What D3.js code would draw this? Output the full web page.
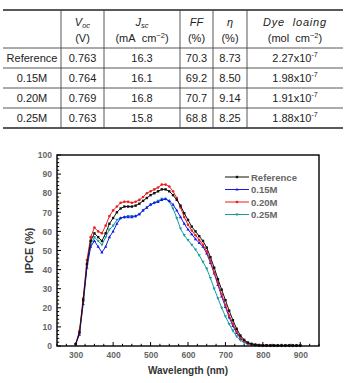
<!DOCTYPE html>
<html><head><meta charset="utf-8">
<script src="https://cdn.jsdelivr.net/npm/d3@7/dist/d3.min.js"></script>
<style>
html,body{margin:0;padding:0;background:#fff;}
svg{display:block;font-family:"Liberation Sans",Arial,sans-serif;}
</style></head><body>
<svg id="c" width="345" height="383"></svg>
<script>
// ---- table data ----
const samples = ["Reference","0.15M","0.20M","0.25M"];
const voc = ["0.763","0.764","0.769","0.763"];
const jsc = ["16.3","16.1","16.8","15.8"];
const ff = ["70.3","69.2","70.7","68.8"];
const eta = ["8.73","8.50","9.14","8.25"];
const dyeMantissa = ["2.27","1.98","1.91","1.88"];
const dyeExp = "-7";

// ---- chart data ----
const wavelengths = d3.range(300, 901, 10);
const seriesNames = ["Reference","0.15M","0.20M","0.25M"];
const refVals = [1,7,24,43,55,59,57,55,59,64,67,70,72,73,73,73,73.5,74.5,76,77.5,79,80,81,82,82,81,79,76.5,73.5,69.5,66,62.5,60,57.5,55,51.5,46.5,41,35,29.5,24,18.5,13.5,9,5.5,3.2,1.8,1.1,0.7,0.5,0.4,0.4,0.3,0.3,0.3,0.3,0.3,0.3,0.3,0.3,0.3];
const m15Vals = [1,6,22,41,52,55,52,49,52,57,60,64,67,67.5,67.5,67.5,68,69,71,72.5,74,75,75.5,76.5,77,76,74,71,67.5,64,61,58.5,56,54,52,48.5,43.5,38,32,26,20.5,15,10.5,6.8,4,2.5,1.5,1,0.6,0.4,0.3,0.3,0.3,0.3,0.3,0.3,0.3,0.3,0.3,0.3,0.3];
const m20Vals = [1,8,25,45,57,62,60,59,63,68,71,73,75,75.5,75.5,75,75.5,76.5,78,80,81,82,83,84.5,84.5,83.5,81,77.5,72.5,67.5,63.5,60.5,58,55.5,53,49.5,44.5,38.5,33,27,21.5,16,11.5,7.5,4.5,2.6,1.4,0.9,0.6,0.4,0.3,0.3,0.3,0.3,0.3,0.3,0.3,0.3,0.3,0.3,0.3];
const m25Vals = [1,7,23,42,53,57,55,53,57,61,63,66,67,67.5,68,68,68,69,71,72.5,74,75,76,77,77,75.5,72,67,61.5,58,55.5,53,50.5,47.5,44,40.5,35.5,30,25,20,15.5,11.5,8,5,3,1.8,1,0.6,0.4,0.3,0.2,0.2,0.2,0.2,0.2,0.2,0.2,0.2,0.2,0.2,0.2];
const xTicks = [300,400,500,600,700,800,900];
const yTicks = [0,10,20,30,40,50,60,70,80,90,100];

const svg = d3.select("#c");
const ink = "#222";
const NB = "\u00a0";

// ---- table ----
const colEdges = [3,61,104,180,213,247,343];
const colCenter = i => (colEdges[i]+colEdges[i+1])/2;
const tTop = 10, tHead = 48, rowH = 20;
const tBottom = tHead + rowH*samples.length;
const tg = svg.append("g");
tg.append("line").attr("x1",colEdges[0]).attr("x2",colEdges[6]).attr("y1",tTop).attr("y2",tTop).attr("stroke","#222").attr("stroke-width",1.4);
tg.append("line").attr("x1",colEdges[0]).attr("x2",colEdges[6]).attr("y1",tBottom).attr("y2",tBottom).attr("stroke","#222").attr("stroke-width",1.4);
for (let r=0;r<samples.length;r++){
  const y = tHead + r*rowH;
  tg.append("line").attr("x1",colEdges[0]).attr("x2",colEdges[6]).attr("y1",y).attr("y2",y).attr("stroke","#444").attr("stroke-width",0.9);
}
for (let c=1;c<6;c++){
  tg.append("line").attr("x1",colEdges[c]).attr("x2",colEdges[c]).attr("y1",tTop).attr("y2",tBottom).attr("stroke","#444").attr("stroke-width",0.9);
}
// header
function headText(ci, build, y){
  const t = tg.append("text").attr("x",colCenter(ci)).attr("y",y).attr("text-anchor","middle")
    .attr("font-size",11).attr("fill",ink);
  build(t);
}
const h1y = 26, h2y = 42;
headText(1, t=>{t.append("tspan").attr("font-style","italic").text("V");t.append("tspan").attr("font-style","italic").attr("font-size",7.5).attr("dy",2).text("oc");}, h1y);
headText(1, t=>t.text("(V)"), h2y);
headText(2, t=>{t.append("tspan").attr("font-style","italic").text("J");t.append("tspan").attr("font-style","italic").attr("font-size",7.5).attr("dy",2).text("sc");}, h1y);
headText(2, t=>{t.append("tspan").text("(mA"+NB+NB+"cm");t.append("tspan").attr("font-size",7.5).attr("dy",-4).text("−2");t.append("tspan").attr("dy",4).text(")");}, h2y);
headText(3, t=>t.attr("font-style","italic").text("FF"), h1y);
headText(3, t=>t.text("(%)"), h2y);
headText(4, t=>t.attr("font-style","italic").text("η"), h1y);
headText(4, t=>t.text("(%)"), h2y);
headText(5, t=>t.attr("font-style","italic").attr("letter-spacing",0.8).text("Dye"+NB+NB+"loaing"), h1y);
headText(5, t=>{t.append("tspan").text("(mol"+NB+NB+"cm");t.append("tspan").attr("font-size",7.5).attr("dy",-4).text("−2");t.append("tspan").attr("dy",4).text(")");}, h2y);
// rows
samples.forEach((s,r)=>{
  const y = tHead + r*rowH + 14;
  const cells = [s, voc[r], jsc[r], ff[r], eta[r]];
  cells.forEach((v,ci)=>{
    tg.append("text").attr("x",colCenter(ci)).attr("y",y).attr("text-anchor","middle").attr("font-size",11).attr("fill",ink).text(v);
  });
  const t = tg.append("text").attr("x",colCenter(5)).attr("y",y).attr("text-anchor","middle").attr("font-size",11).attr("fill",ink);
  t.append("tspan").text(dyeMantissa[r]+"x10");
  t.append("tspan").attr("font-size",7).attr("dy",-5).text(dyeExp);
});

// ---- chart ----
const L=57, R=319, T=155, B=346;
const x = d3.scaleLinear().domain([250,950]).range([L,R]);
const y = d3.scaleLinear().domain([0,100]).range([B,T]);
const cg = svg.append("g");

// ticks
const minorX = d3.range(250,951,25);
const minorY = d3.range(0,101,2);
minorX.forEach(v=>{ const major = v%100===0; cg.append("line").attr("x1",x(v)).attr("x2",x(v)).attr("y1",B).attr("y2",B-(major?4:2.2)).attr("stroke","#000").attr("stroke-width",1);});
minorY.forEach(v=>{ const major = v%10===0; cg.append("line").attr("x1",L).attr("x2",L+(major?4:2.2)).attr("y1",y(v)).attr("y2",y(v)).attr("stroke","#000").attr("stroke-width",1);});

const xAxis = d3.axisBottom(x).tickValues(xTicks).tickSize(0).tickPadding(6);
const yAxis = d3.axisLeft(y).tickValues(yTicks).tickSize(0).tickPadding(5);
const gx = cg.append("g").attr("transform",`translate(0,${B})`).call(xAxis);
const gy = cg.append("g").attr("transform",`translate(${L},0)`).call(yAxis);
[gx,gy].forEach(g=>{ g.select(".domain").remove(); g.selectAll("text").attr("font-size",8.5).attr("font-weight","bold").attr("fill","#666").attr("font-family","'Liberation Sans',Arial,sans-serif");});

const series = [
  {name:seriesNames[3], vals:m25Vals, color:"#169c9c", sym:"down"},
  {name:seriesNames[1], vals:m15Vals, color:"#1a1ae6", sym:"up"},
  {name:seriesNames[2], vals:m20Vals, color:"#ee1c1c", sym:"circle"},
  {name:seriesNames[0], vals:refVals, color:"#111111", sym:"square"}
];
const line = d3.line().x(d=>x(d[0])).y(d=>y(d[1]));
function marker(g, cx, cy, sym, color){
  if (sym==="circle") g.append("circle").attr("cx",cx).attr("cy",cy).attr("r",1.3).attr("fill",color);
  else if (sym==="square") g.append("rect").attr("x",cx-1.2).attr("y",cy-1.2).attr("width",2.4).attr("height",2.4).attr("fill",color);
  else if (sym==="up") g.append("path").attr("d",`M${cx},${cy-1.8}L${cx+1.6},${cy+1.1}L${cx-1.6},${cy+1.1}Z`).attr("fill",color);
  else g.append("path").attr("d",`M${cx},${cy+1.8}L${cx+1.6},${cy-1.1}L${cx-1.6},${cy-1.1}Z`).attr("fill",color);
}
series.forEach(s=>{
  const pts = wavelengths.map((w,i)=>[w,s.vals[i]]);
  const g = cg.append("g");
  g.append("path").attr("d",line(pts)).attr("fill","none").attr("stroke",s.color).attr("stroke-width",1);
  pts.forEach(p=>marker(g,x(p[0]),y(p[1]),s.sym,s.color));
});

// frame
cg.append("rect").attr("x",L).attr("y",T).attr("width",R-L).attr("height",B-T).attr("fill","none").attr("stroke","#000").attr("stroke-width",1.4);

// legend
const legOrder = [
  {name:seriesNames[0], color:"#111111", sym:"square"},
  {name:seriesNames[1], color:"#1a1ae6", sym:"up"},
  {name:seriesNames[2], color:"#ee1c1c", sym:"circle"},
  {name:seriesNames[3], color:"#169c9c", sym:"down"}
];
legOrder.forEach((d,i)=>{
  const ly = 177 + i*12.5;
  cg.append("line").attr("x1",225).attr("x2",249).attr("y1",ly).attr("y2",ly).attr("stroke",d.color).attr("stroke-width",1);
  marker(cg,237,ly,d.sym,d.color);
  cg.append("text").attr("x",251).attr("y",ly+3.5).attr("font-size",9.5).attr("font-weight","bold").attr("fill","#666").text(d.name);
});

// axis titles
cg.append("text").attr("x",(L+R)/2).attr("y",374).attr("text-anchor","middle").attr("font-size",10).attr("font-weight","bold").attr("fill","#333").text("Wavelength (nm)");
cg.append("text").attr("transform",`translate(33,${(T+B)/2}) rotate(-90)`).attr("text-anchor","middle").attr("font-size",11).attr("font-weight","bold").attr("fill","#333").text("IPCE (%)");
</script>
</body></html>
